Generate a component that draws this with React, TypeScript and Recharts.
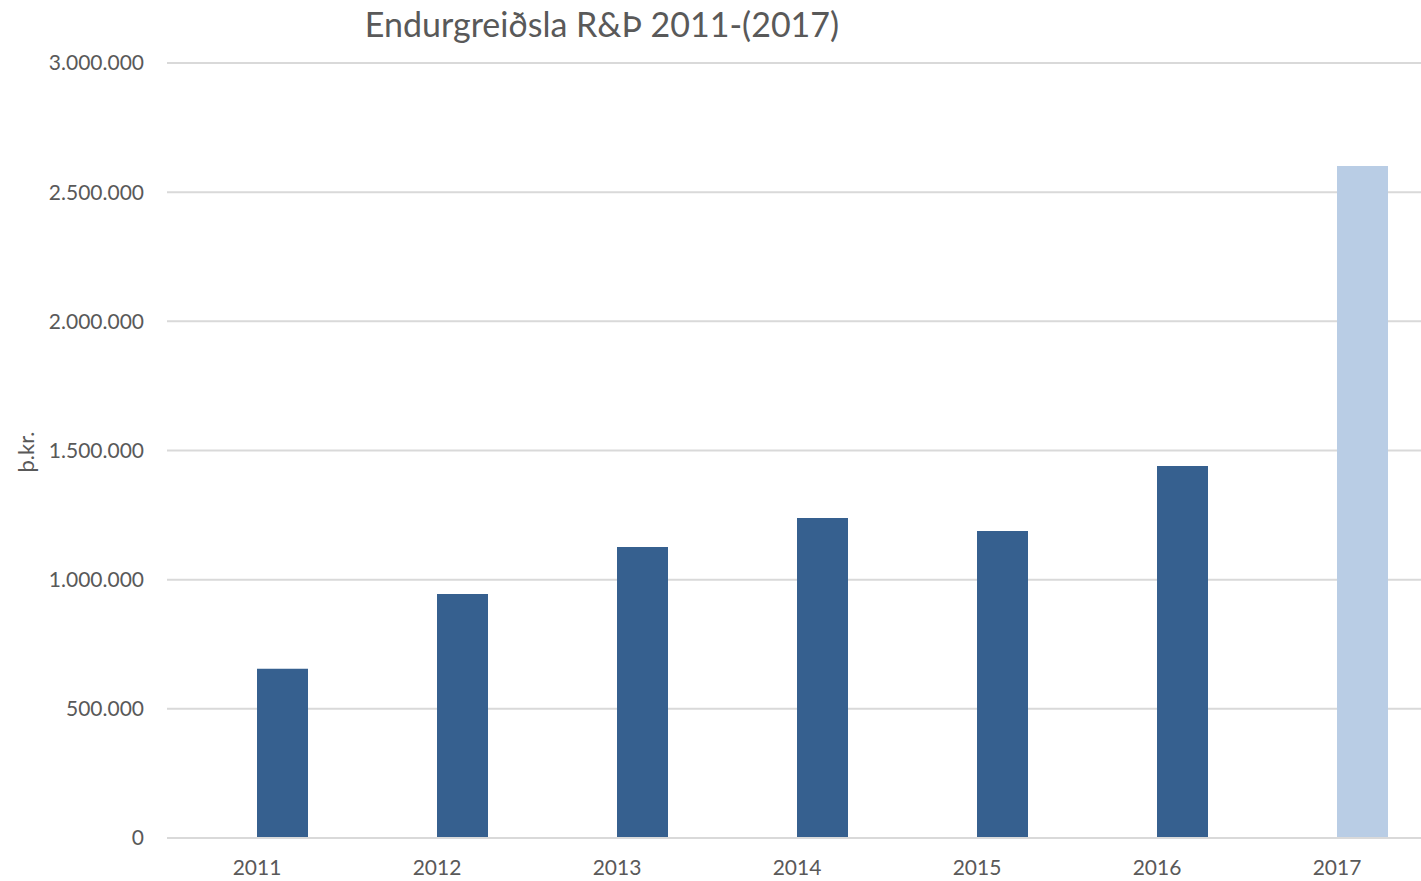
import React from 'react';
import { BarChart, Bar, XAxis, YAxis, CartesianGrid, Cell } from 'recharts';

const years = ['2011', '2012', '2013', '2014', '2015', '2016', '2017'];
const values = [655000, 945000, 1126000, 1239000, 1188000, 1440000, 2601000];
const empty = [0, 0, 0, 0, 0, 0, 0];
const yTicks = [0, 500000, 1000000, 1500000, 2000000, 2500000, 3000000];

const data = years.map((year, i) => ({ year, empty: empty[i], value: values[i] }));

const fmt = (v: number) => String(v).replace(/\B(?=(\d{3})+(?!\d))/g, '.');

const FONT = 'Lato, "Open Sans", sans-serif';
const GREY = '#595959';

export default function App() {
  return (
    <div style={{ position: 'fixed', left: 0, top: 0, width: 1421, height: 881, overflow: 'hidden', background: '#fff', fontFamily: FONT }}>
      <div style={{ position: 'absolute', left: 0, width: 1204, top: 3, textAlign: 'center', fontSize: 34, color: GREY }}>
        Endurgreiðsla R&amp;Þ 2011-(2017)
      </div>
      <div style={{ position: 'absolute', left: 25, top: 452, transform: 'translate(-50%, -50%) rotate(-90deg)', fontSize: 22, color: GREY, whiteSpace: 'nowrap' }}>
        þ.kr.
      </div>
      <BarChart
        width={1430}
        height={881}
        data={data}
        margin={{ top: 63, right: 3, left: 0, bottom: 0 }}
        barGap={0}
        barSize={51}
      >
        <CartesianGrid vertical={false} stroke="#D9D9D9" strokeWidth={2} />
        <XAxis
          dataKey="year"
          height={43}
          tickSize={0}
          tickMargin={22}
          axisLine={{ stroke: '#D9D9D9', strokeWidth: 2 }}
          tick={{ fill: GREY, fontSize: 21, fontFamily: FONT }}
        />
        <YAxis
          width={167}
          domain={[0, 3000000]}
          ticks={yTicks}
          tickFormatter={fmt}
          tickSize={0}
          tickMargin={23}
          axisLine={false}
          tick={{ fill: GREY, fontSize: 21, fontFamily: FONT }}
        />
        <Bar dataKey="empty" fill="#36608F" isAnimationActive={false} />
        <Bar dataKey="value" isAnimationActive={false}>
          {data.map((d, i) => (
            <Cell key={d.year} fill={i === years.length - 1 ? '#B9CDE5' : '#36608F'} />
          ))}
        </Bar>
      </BarChart>
    </div>
  );
}
